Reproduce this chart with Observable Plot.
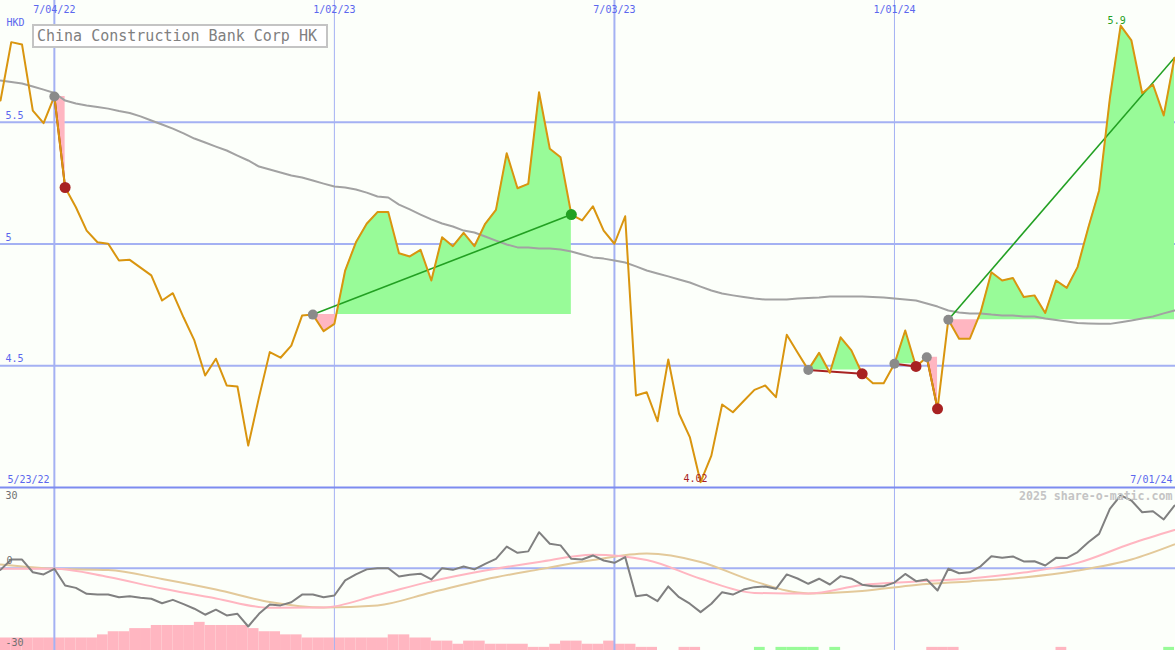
<!DOCTYPE html>
<html><head><meta charset="utf-8">
<script src="https://cdn.jsdelivr.net/npm/d3@7"></script>
<script src="https://cdn.jsdelivr.net/npm/@observablehq/plot@0.6"></script>
<style>
html,body{margin:0;padding:0;background:#fcfffa;}
#wrap{position:relative;width:1175px;height:650px;overflow:hidden;background:#fcfffa;font-family:"DejaVu Sans Mono",monospace;}
#wrap svg{position:absolute;left:0;}
#title{position:absolute;left:32px;top:24px;width:289px;height:20px;border:2px solid #c4c4c4;background:#ffffff;color:#808080;font:15px "DejaVu Sans Mono",monospace;line-height:20px;padding-left:3px;white-space:nowrap;}
</style></head><body><div id="wrap"></div>
<script>
// ---------- data ----------
const titleText = "China Construction Bank Corp HK";
const currency = "HKD";
const startWeek = "2022-05-30";
const rangeLabels = ["5/23/22", "7/01/24"];
const watermark = "2025 share-o-matic.com";
const majorDates = ["2022-07-04", "2023-07-03"];
const minorDates = ["2023-01-02", "2024-01-01"];
const priceTicks = [4.5, 5, 5.5];
const indTicks = [30, 0, -30];

const price = [5.589, 5.829, 5.819, 5.548, 5.496, 5.606, 5.232, 5.151, 5.055, 5.007,
 5.001, 4.932, 4.935, 4.903, 4.871, 4.768, 4.798, 4.698, 4.604, 4.460,
 4.529, 4.419, 4.415, 4.172, 4.370, 4.556, 4.533, 4.583, 4.706, 4.710,
 4.642, 4.672, 4.891, 5.007, 5.083, 5.131, 5.131, 4.962, 4.949, 4.976,
 4.850, 5.028, 4.991, 5.046, 4.991, 5.083, 5.140, 5.373, 5.229, 5.247,
 5.623, 5.391, 5.356, 5.121, 5.097, 5.155, 5.055, 5.001, 5.114, 4.378,
 4.391, 4.272, 4.526, 4.303, 4.207, 4.022, 4.131, 4.341, 4.309, 4.355,
 4.401, 4.419, 4.371, 4.627, 4.554, 4.483, 4.553, 4.471, 4.617, 4.563,
 4.467, 4.428, 4.428, 4.508, 4.645, 4.497, 4.535, 4.323, 4.689, 4.611,
 4.611, 4.720, 4.884, 4.850, 4.860, 4.782, 4.789, 4.717, 4.850, 4.820,
 4.905, 5.068, 5.220, 5.598, 5.897, 5.836, 5.619, 5.655, 5.528, 5.765];

const movingAvg = [5.671, 5.665, 5.659, 5.647, 5.634, 5.620, 5.589, 5.577, 5.569, 5.563,
 5.556, 5.546, 5.538, 5.524, 5.507, 5.491, 5.474, 5.454, 5.433, 5.417,
 5.400, 5.384, 5.363, 5.343, 5.318, 5.306, 5.294, 5.281, 5.273, 5.261,
 5.248, 5.236, 5.232, 5.224, 5.211, 5.195, 5.191, 5.162, 5.142, 5.121,
 5.101, 5.084, 5.072, 5.055, 5.047, 5.031, 5.014, 4.998, 4.986, 4.986,
 4.982, 4.982, 4.977, 4.969, 4.957, 4.945, 4.940, 4.932, 4.924, 4.908,
 4.891, 4.879, 4.867, 4.854, 4.842, 4.825, 4.809, 4.797, 4.789, 4.782,
 4.776, 4.772, 4.772, 4.772, 4.776, 4.778, 4.780, 4.784, 4.784, 4.784,
 4.784, 4.782, 4.780, 4.776, 4.772, 4.768, 4.756, 4.743, 4.727, 4.719,
 4.715, 4.715, 4.710, 4.706, 4.706, 4.702, 4.702, 4.694, 4.688, 4.682,
 4.676, 4.674, 4.672, 4.672, 4.679, 4.686, 4.694, 4.702, 4.715, 4.727];

// trade signals (week index of entry / exit; null = still open)
const entryIdx = [5, 29, 75, 83, 86, 88];
const exitIdx  = [6, 53, 80, 85, 87, null];

// lower indicator panel
const momentum = [-0.7, 3.6, 3.6, -1.7, -2.6, -0.25, -7.2, -8.2, -10.7, -11,
 -11, -12.1, -11.7, -12.3, -12.75, -14.6, -13.2, -15, -16.9, -19.4,
 -17.3, -19.7, -19, -24.3, -19, -15.1, -15.5, -14.2, -11, -11,
 -12.1, -11.4, -5.1, -2.6, -0.5, 0, 0, -3.5, -2.75, -2.3,
 -4.7, 0, -0.7, 0.7, -0.5, 1.8, 3.9, 9, 6.4, 7,
 15, 10.2, 9.5, 3.9, 3.6, 5.3, 3.2, 2.25, 4.6, -11.7,
 -11.1, -13.75, -7.6, -12.1, -14.8, -18.3, -14.8, -10, -11, -8.9,
 -7.9, -7.6, -8.6, -2.6, -4.3, -6.5, -4.4, -6.8, -3.3, -4.4,
 -6.9, -7.5, -7.5, -6, -2.4, -5.4, -4.7, -9.3, -0.25, -2.1,
 -1.7, 0.8, 5, 4.3, 4.9, 2.8, 2.9, 1.1, 4.3, 4.2,
 6.7, 10.8, 14.3, 24.75, 30.3, 28.2, 23.3, 23.75, 20.3, 26.1];
const smoothIdx = [0,5,10,15,20,25,30,35,40,45,50,55,60,65,70,75,80,85,90,95,100,105,109];
const pinkAvg = [-0.25, -0.25, -3.7, -8.5, -12.6, -16.5, -16.4, -11.2, -5.5, -1, 2.6, 5.6, 3.4, -4.4, -10.3, -10.6, -7, -5.6, -4.3, -1.8, 2.2, 10.3, 15.9];
const tanAvg  = [1.5, -0.25, -0.75, -4.5, -8.9, -14.1, -16.4, -15.5, -10.1, -4.7, -0.5, 3.4, 6.1, 2.6, -5.5, -10.5, -9.5, -7, -5.5, -3.9, -1, 3.6, 9.9];
const histogram = [-4,-4,-4,-4,-4,-4,-4,-4,-4,-5, -6,-6,-7,-7,-8,-8,-8,-8,-9,-8,
 -8,-8,-8,-7,-6,-6,-5,-5,-4,-4, -4,-4,-4,-4,-4,-4,-5,-5,-4,-4,
 -3,-3,-2,-3,-3,-2,-2,-2,-2,-1, -1,-2,-3,-3,-2,-2,-3,-2,-2,-1,
 -1,0,0,-1,-1,0,0,0,0,0, 1,0,1,1,1,1,0,1,0,0,
 0,0,0,0,0,0,-1,-1,-1,0, 0,0,0,0,0,0,0,0,-1,0,
 0,0,0,0,0,0,0,0,1,0];

// ---------- derived ----------
const start = new Date(startWeek);
const dates = price.map((_, i) => d3.utcDay.offset(start, 7 * i));
const last = price.length - 1;
const fmtDate = d3.utcFormat("%-m/%d/%y");
const fmtPrice = d3.format(".3~g");
const toD = s => new Date(s);

const trades = entryIdx.map((e, k) => {
  const x = exitIdx[k] == null ? last : exitIdx[k];
  return {k, e, x, open: exitIdx[k] == null, win: price[x] >= price[e]};
});
const fillPts = [];
trades.forEach(t => {
  const lvl = price[t.e];
  for (let i = t.e; i <= t.x; i++) {
    fillPts.push({k: t.k, date: dates[i], p: price[i], lvl});
    if (i < t.x) {
      const a = price[i] - lvl, b = price[i + 1] - lvl;
      if (a * b < 0) {
        const f = a / (a - b);
        fillPts.push({k: t.k, date: new Date(+dates[i] + f * (dates[i + 1] - dates[i])), p: lvl, lvl});
      }
    }
  }
});
const maxI = d3.maxIndex(price), minI = d3.minIndex(price);

const BLUE = "#5b67ee", GRID = "#a4b1f3";
const GREEN_FILL = "#98fb98", PINK_FILL = "#ffb6c1";
const xScale = {type: "utc", domain: [dates[0], dates[last]], range: [0, 1174], axis: null};
const font = {fontFamily: "DejaVu Sans Mono, monospace", fontSize: "10px", background: "transparent", overflow: "visible"};

const main = Plot.plot({
  width: 1175, height: 488, marginTop: 0, marginBottom: 1, marginLeft: 0, marginRight: 0,
  style: font,
  x: xScale,
  y: {domain: [4, 6], axis: null},
  marks: [
    Plot.ruleY(priceTicks, {stroke: GRID, strokeWidth: 2}),
    Plot.ruleX(majorDates.map(toD), {stroke: GRID, strokeWidth: 2}),
    Plot.ruleX(minorDates.map(toD), {stroke: GRID, strokeWidth: 1}),
    Plot.ruleY([4], {stroke: "#7d8cf0", strokeWidth: 2}),
    Plot.areaY(fillPts, {x: "date", y1: "lvl", y2: d => Math.max(d.p, d.lvl), z: "k", fill: GREEN_FILL}),
    Plot.areaY(fillPts, {x: "date", y1: "lvl", y2: d => Math.min(d.p, d.lvl), z: "k", fill: PINK_FILL}),
    Plot.lineY(movingAvg, {x: (d, i) => dates[i], y: d => d, stroke: "#a2a2a2", strokeWidth: 2}),
    Plot.link(trades.filter(t => t.win), {x1: t => dates[t.e], y1: t => price[t.e], x2: t => dates[t.x], y2: t => price[t.x], stroke: "#22a022", strokeWidth: 1.6}),
    Plot.link(trades.filter(t => !t.win), {x1: t => dates[t.e], y1: t => price[t.e], x2: t => dates[t.x], y2: t => price[t.x], stroke: "#a82222", strokeWidth: 2}),
    Plot.lineY(price, {x: (d, i) => dates[i], y: d => d, stroke: "#d9950f", strokeWidth: 2}),
    Plot.dot(trades, {x: t => dates[t.e], y: t => price[t.e], r: 5, fill: "#8a8a8a"}),
    Plot.dot(trades.filter(t => !t.open && !t.win), {x: t => dates[t.x], y: t => price[t.x], r: 5.5, fill: "#a82222"}),
    Plot.dot(trades.filter(t => !t.open && t.win), {x: t => dates[t.x], y: t => price[t.x], r: 5.5, fill: "#22a022"}),
    Plot.text([maxI], {x: i => dates[i], y: i => price[i], text: i => fmtPrice(price[i]), dx: -4, dy: -5, fill: "#22a022", fontSize: 10}),
    Plot.text([minI], {x: i => dates[i], y: i => price[i], text: i => fmtPrice(price[i]), dx: -5, dy: -3, fill: "#a82222", fontSize: 10}),
    Plot.text(majorDates.concat(minorDates).map(toD), {x: d => d, text: d => fmtDate(d), frameAnchor: "top", lineAnchor: "middle", dy: 9, fill: BLUE, fontSize: 10}),
    Plot.text([currency], {text: d => d, frameAnchor: "top-left", textAnchor: "start", lineAnchor: "middle", dx: 6, dy: 22, fill: BLUE, fontSize: 10}),
    Plot.text(priceTicks, {y: d => d, text: d => String(d), frameAnchor: "left", textAnchor: "start", lineAnchor: "middle", dx: 5, dy: -6.5, fill: BLUE, fontSize: 10}),
    Plot.text([rangeLabels[0]], {text: d => d, frameAnchor: "bottom-left", textAnchor: "start", lineAnchor: "middle", dx: 7, dy: -8, fill: BLUE, fontSize: 10}),
    Plot.text([rangeLabels[1]], {text: d => d, frameAnchor: "bottom-right", textAnchor: "end", lineAnchor: "middle", dx: -3, dy: -8, fill: BLUE, fontSize: 10})
  ]
});

const barsPlot = Plot.plot({
  width: 1175, height: 162, marginTop: 0, marginBottom: 0, marginLeft: 0, marginRight: 0,
  style: font,
  x: xScale,
  y: {domain: [0, 51.8], axis: null},
  marks: [
    Plot.rectY(histogram.map((v, i) => ({v, i})).filter(d => d.v !== 0 && d.i < last),
      {x1: d => dates[d.i], x2: d => dates[d.i + 1], y1: 0, y2: d => Math.abs(d.v), fill: d => d.v < 0 ? PINK_FILL : GREEN_FILL})
  ]
});

const lower = Plot.plot({
  width: 1175, height: 162, marginTop: 0, marginBottom: 0, marginLeft: 0, marginRight: 0,
  style: font,
  x: xScale,
  y: {domain: [-34.3, 33.2], axis: null},
  marks: [
    Plot.ruleX(majorDates.map(toD), {stroke: GRID, strokeWidth: 2}),
    Plot.ruleX(minorDates.map(toD), {stroke: GRID, strokeWidth: 1}),
    Plot.ruleY([0], {stroke: GRID, strokeWidth: 2}),
    Plot.line(tanAvg, {x: (d, i) => dates[smoothIdx[i]], y: d => d, stroke: "#e3c99a", strokeWidth: 2, curve: "monotone-x"}),
    Plot.line(pinkAvg, {x: (d, i) => dates[smoothIdx[i]], y: d => d, stroke: "#ffb6c1", strokeWidth: 2, curve: "monotone-x"}),
    Plot.lineY(momentum, {x: (d, i) => dates[i], y: d => d, stroke: "#808080", strokeWidth: 2}),
    Plot.text([indTicks[0]], {y: d => d, text: d => String(d), frameAnchor: "left", textAnchor: "start", lineAnchor: "middle", dx: 5, dy: 0, fill: "#707070", fontSize: 10}),
    Plot.text([indTicks[1]], {y: d => d, text: d => String(d), frameAnchor: "left", textAnchor: "start", lineAnchor: "middle", dx: 6, dy: -7, fill: "#707070", fontSize: 10}),
    Plot.text([indTicks[2]], {y: d => d, text: d => String(d), frameAnchor: "left", textAnchor: "start", lineAnchor: "middle", dx: 5, dy: 3, fill: "#707070", fontSize: 10}),
    Plot.text([watermark], {text: d => d, frameAnchor: "top-right", textAnchor: "end", lineAnchor: "middle", dx: -3, dy: 8, fill: "#c4c4c4", fontSize: 11.6, fontWeight: "bold"})
  ]
});

const wrap = document.getElementById("wrap");
main.style.top = "0px";
barsPlot.style.top = "488px";
lower.style.top = "488px";
wrap.appendChild(barsPlot);
wrap.appendChild(lower);
wrap.appendChild(main);
const t = document.createElement("div");
t.id = "title";
t.textContent = titleText;
wrap.appendChild(t);
</script>
</body></html>
